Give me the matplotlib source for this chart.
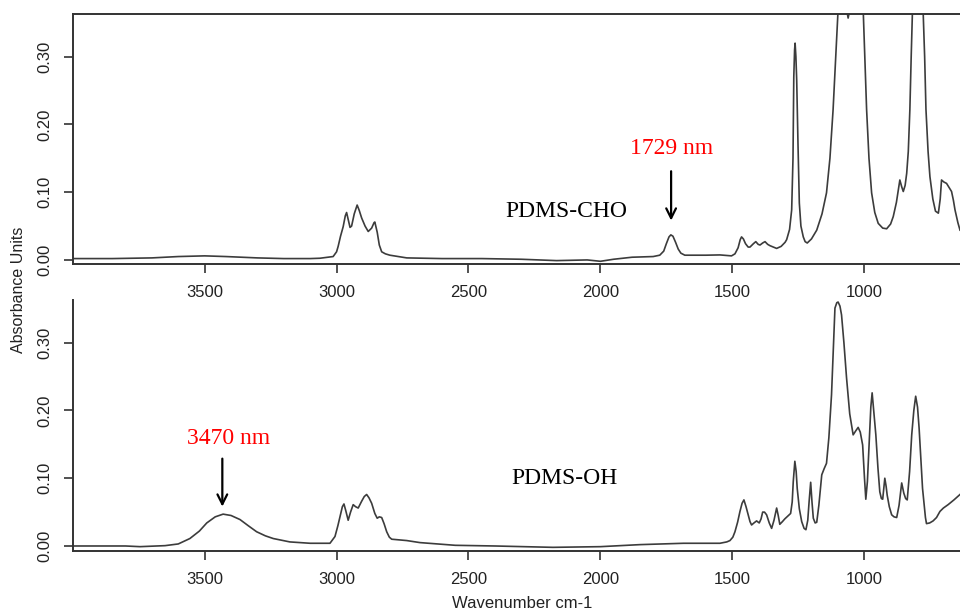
import numpy as np
import matplotlib
matplotlib.use('Agg')
import matplotlib.pyplot as plt

# PDMS-CHO spectrum (top panel)
cho_wn = [3999, 3850, 3700, 3600, 3500, 3420, 3300, 3200, 3100, 3063, 3013, 3000, 2994,
          2985, 2975, 2967, 2962, 2956, 2949, 2943, 2933, 2922, 2914, 2905, 2892, 2880,
          2867, 2858, 2855, 2846, 2838, 2829, 2815, 2798, 2734, 2600, 2450, 2300, 2166,
          2050, 2000, 1950, 1880, 1800, 1775, 1760, 1750, 1740, 1733, 1725, 1715, 1705,
          1695, 1680, 1600, 1547, 1503, 1490, 1478, 1470, 1465, 1458, 1450, 1440, 1433,
          1420, 1411, 1402, 1395, 1385, 1376, 1366, 1357, 1345, 1332, 1315, 1300, 1294,
          1283, 1275, 1270, 1267, 1264, 1262, 1259, 1256, 1251, 1246, 1240, 1231, 1224,
          1216, 1200, 1180, 1160, 1143, 1130, 1118, 1108, 1099, 1080, 1061, 1040, 1004,
          998, 991, 982, 972, 960, 947, 930, 915, 900, 890, 878, 865, 858, 852, 845, 839,
          833, 827, 822, 817, 800, 777, 771, 766, 758, 751, 740, 730, 719, 712, 707, 698,
          688, 680, 669, 662, 656, 645, 637]
cho_abs = [0.002, 0.002, 0.003, 0.005, 0.006, 0.005, 0.003, 0.002, 0.002, 0.0025, 0.005,
           0.012, 0.020, 0.035, 0.049, 0.065, 0.070, 0.060, 0.048, 0.050, 0.068, 0.081,
           0.073, 0.062, 0.050, 0.042, 0.047, 0.055, 0.056, 0.041, 0.022, 0.012, 0.009,
           0.007, 0.003, 0.002, 0.002, 0.001, -0.001, 0.000, -0.002, 0.001, 0.004, 0.005,
           0.007, 0.013, 0.024, 0.034, 0.037, 0.035, 0.026, 0.016, 0.010, 0.007, 0.007,
           0.0074, 0.006, 0.009, 0.018, 0.030, 0.034, 0.031, 0.024, 0.019, 0.019, 0.024,
           0.027, 0.023, 0.022, 0.025, 0.027, 0.023, 0.021, 0.019, 0.017, 0.020, 0.026,
           0.030, 0.045, 0.074, 0.15, 0.27, 0.31, 0.32, 0.30, 0.266, 0.17, 0.084, 0.050,
           0.034, 0.027, 0.025, 0.031, 0.044, 0.068, 0.099, 0.15, 0.222, 0.30, 0.37, 0.40,
           0.357, 0.40, 0.37, 0.30, 0.222, 0.15, 0.099, 0.070, 0.054, 0.047, 0.046, 0.053,
           0.064, 0.085, 0.118, 0.108, 0.101, 0.110, 0.128, 0.16, 0.222, 0.30, 0.37, 0.5,
           0.37, 0.30, 0.222, 0.16, 0.123, 0.090, 0.072, 0.069, 0.090, 0.118, 0.115, 0.113,
           0.108, 0.101, 0.088, 0.074, 0.055, 0.044]

# PDMS-OH spectrum (bottom panel)
oh_wn = [3999, 3800, 3745, 3682, 3650, 3600, 3556, 3520, 3492, 3460, 3430, 3400, 3366,
         3335, 3303, 3270, 3240, 3177, 3100, 3063, 3025, 3006, 2995, 2987, 2978, 2972,
         2965, 2956, 2947, 2937, 2928, 2918, 2905, 2895, 2886, 2877, 2867, 2855, 2846,
         2838, 2829, 2820, 2810, 2800, 2791, 2734, 2684, 2550, 2400, 2180, 2000, 1850,
         1685, 1547, 1521, 1509, 1498, 1490, 1480, 1471, 1463, 1456, 1448, 1440, 1433,
         1427, 1418, 1408, 1398, 1391, 1385, 1378, 1370, 1360, 1351, 1342, 1332, 1326,
         1320, 1310, 1301, 1290, 1279, 1273, 1269, 1263, 1258, 1254, 1246, 1237, 1228,
         1221, 1214, 1209, 1203, 1198, 1193, 1186, 1180, 1172, 1161, 1152, 1143, 1134,
         1124, 1117, 1111, 1104, 1099, 1092, 1086, 1077, 1067, 1055, 1042, 1032, 1023,
         1015, 1006, 999, 994, 988, 981, 975, 970, 964, 956, 948, 941, 935, 930, 926,
         922, 917, 913, 905, 896, 887, 877, 868, 858, 850, 843, 837, 828, 820, 812, 805,
         798, 792, 785, 779, 774, 768, 764, 752, 739, 726, 713, 700, 682, 660, 637]
oh_abs = [0.0, 0.0, -0.001, 0.0, 0.0005, 0.003, 0.011, 0.022, 0.034, 0.043, 0.047, 0.045,
          0.039, 0.030, 0.021, 0.015, 0.011, 0.006, 0.004, 0.004, 0.004, 0.014, 0.030,
          0.043, 0.058, 0.062, 0.052, 0.038, 0.050, 0.061, 0.058, 0.056, 0.066, 0.073,
          0.076, 0.071, 0.063, 0.048, 0.041, 0.043, 0.042, 0.033, 0.021, 0.013, 0.010,
          0.008, 0.005, 0.001, 0.000, -0.002, -0.001, 0.002, 0.004, 0.004, 0.006, 0.008,
          0.013, 0.021, 0.035, 0.051, 0.063, 0.068, 0.058, 0.046, 0.036, 0.031, 0.034,
          0.037, 0.034, 0.040, 0.050, 0.050, 0.046, 0.034, 0.026, 0.038, 0.056, 0.045,
          0.032, 0.036, 0.040, 0.044, 0.048, 0.065, 0.095, 0.125, 0.110, 0.085, 0.055,
          0.036, 0.026, 0.024, 0.038, 0.065, 0.094, 0.065, 0.041, 0.034, 0.035, 0.060,
          0.105, 0.114, 0.122, 0.160, 0.223, 0.29, 0.351, 0.359, 0.360, 0.354, 0.341,
          0.30, 0.248, 0.195, 0.164, 0.170, 0.175, 0.168, 0.149, 0.100, 0.069, 0.095,
          0.154, 0.205, 0.226, 0.200, 0.164, 0.115, 0.080, 0.070, 0.069, 0.085, 0.100,
          0.088, 0.075, 0.058, 0.046, 0.043, 0.042, 0.060, 0.093, 0.078, 0.070, 0.068,
          0.110, 0.164, 0.200, 0.221, 0.205, 0.174, 0.125, 0.085, 0.065, 0.042, 0.033,
          0.034, 0.037, 0.042, 0.051, 0.056, 0.061, 0.068, 0.076]

xticks = [3500, 3000, 2500, 2000, 1500, 1000]
yticks = [0.00, 0.10, 0.20, 0.30]

plt.rcParams['font.family'] = ['Liberation Sans', 'DejaVu Sans']
serif = ['Liberation Serif', 'DejaVu Serif']

fig = plt.figure(figsize=(9.6, 6.1), dpi=100)
ax1 = fig.add_axes([73 / 960, 1 - 264 / 610, 1 - 73 / 960, 250 / 610])
ax2 = fig.add_axes([73 / 960, 1 - 551 / 610, 1 - 73 / 960, 251 / 610])

line_col = '#3c3c3c'
ax1.plot(cho_wn, cho_abs, color=line_col, lw=1.2)
ax2.plot(oh_wn, oh_abs, color=line_col, lw=1.2)

ax1.set_ylim(-0.006, 0.363)
ax2.set_ylim(-0.0074, 0.363)

for ax in (ax1, ax2):
    ax.set_xlim(3999, 637)
    ax.set_xticks(xticks)
    ax.set_xticklabels([str(t) for t in xticks])
    ax.set_yticks(yticks)
    ax.set_yticklabels(['%.2f' % t for t in yticks], rotation=90, va='center')
    ax.tick_params(axis='both', direction='out', length=6.5, width=1.2,
                   color='#333333', labelsize=12, labelcolor='#222222', pad=8.5)
    for side in ax.spines:
        ax.spines[side].set_color('#333333')
        ax.spines[side].set_linewidth(1.4)
    ax.spines['right'].set_visible(False)

ax2.spines['top'].set_visible(False)

# labels on the spectra
ax1.text(2130, 0.071, 'PDMS-CHO', family=serif, fontsize=17, ha='center', va='center')
ax1.text(1732, 0.165, '1729 nm', family=serif, fontsize=17, color='red', ha='center', va='center')
ax1.annotate('', xy=(1732, 0.054), xytext=(1732, 0.135),
             arrowprops=dict(arrowstyle='->,head_length=0.7,head_width=0.35', lw=1.6, color='black'))

ax2.text(2137, 0.100, 'PDMS-OH', family=serif, fontsize=17, ha='center', va='center')
ax2.text(3408, 0.158, '3470 nm', family=serif, fontsize=17, color='red', ha='center', va='center')
ax2.annotate('', xy=(3433, 0.054), xytext=(3433, 0.133),
             arrowprops=dict(arrowstyle='->,head_length=0.7,head_width=0.35', lw=1.6, color='black'))

fig.text(19 / 960, 1 - 290 / 610, 'Absorbance Units', rotation=90, fontsize=11.5,
         ha='center', va='center', color='#222222')
fig.text(522 / 960, 1 - 604 / 610, 'Wavenumber cm-1', fontsize=12,
         ha='center', va='center', color='#222222')

fig.savefig('out.png', dpi=100)
